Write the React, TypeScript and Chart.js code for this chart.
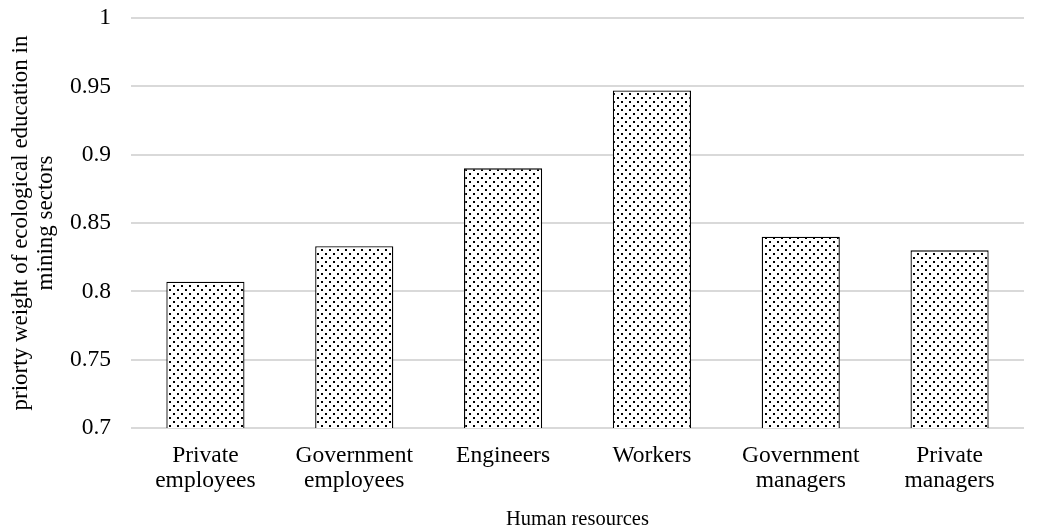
import React, { useEffect, useRef } from "react";
import { Chart, registerables } from "chart.js";

Chart.register(...registerables);

const categories: string[][] = [
  ["Private", "employees"],
  ["Government", "employees"],
  ["Engineers"],
  ["Workers"],
  ["Government", "managers"],
  ["Private", "managers"],
];
const values: number[] = [0.807, 0.833, 0.89, 0.947, 0.84, 0.83];
const yTitle: string[] = ["priorty weight of ecological education in", "mining sectors"];
const xTitle = "Human resources";

function makePattern(): CanvasPattern | string {
  const c = document.createElement("canvas");
  c.width = 8;
  c.height = 8;
  const ctx = c.getContext("2d");
  if (!ctx) return "#fff";
  ctx.fillStyle = "#ffffff";
  ctx.fillRect(0, 0, 8, 8);
  ctx.fillStyle = "#000000";
  ctx.fillRect(1, 1, 2, 2);
  ctx.fillRect(5, 5, 2, 2);
  const p = ctx.createPattern(c, "repeat");
  return p || "#fff";
}

export default function App() {
  const ref = useRef<HTMLCanvasElement>(null);
  useEffect(() => {
    document.body.style.margin = "0";
    if (!ref.current) return;
    const font = "'Liberation Serif', 'Times New Roman', serif";
    const chart = new Chart(ref.current, {
      type: "bar",
      data: {
        labels: categories,
        datasets: [
          {
            data: values,
            backgroundColor: makePattern() as any,
            borderColor: "#000000",
            borderWidth: 1.3,
            barPercentage: 0.525,
            categoryPercentage: 1,
          },
        ],
      },
      options: {
        animation: false,
        responsive: false,
        devicePixelRatio: 1,
        layout: { padding: { left: 9, right: 17, top: 18, bottom: 0 } },
        plugins: { legend: { display: false }, tooltip: { enabled: false } },
        scales: {
          x: {
            grid: { display: false },
            border: { display: false },
            afterFit: (s: any) => { s.height = 101; s.paddingLeft = 0; s.paddingRight = 0; },
            ticks: { color: "#000", font: { family: font, size: 23.5, lineHeight: 1.08 }, maxRotation: 0, autoSkip: false, padding: 7 },
            title: { display: true, text: xTitle, color: "#000", font: { family: font, size: 20.5 }, padding: { top: 0, bottom: -3 } },
          },
          y: {
            min: 0.7,
            max: 1,
            afterFit: (s: any) => { s.width = 122; s.paddingTop = 0; s.paddingBottom = 0; },
            ticks: {
              stepSize: 0.05,
              color: "#000",
              font: { family: font, size: 23.5 },
              padding: 20,
              callback: (v: any) => String(Math.round(Number(v) * 100) / 100),
            },
            grid: { color: "#d9d9d9", lineWidth: 2, drawTicks: false },
            border: { display: false },
            title: { display: true, text: yTitle, color: "#000", font: { family: font, size: 23, lineHeight: 1.08 }, padding: { top: 0, bottom: 0 } },
          },
        },
      },
    });
    return () => chart.destroy();
  }, []);
  return (
    <div style={{ width: 1041, height: 529 }}>
      <canvas ref={ref} width={1041} height={529} />
    </div>
  );
}
